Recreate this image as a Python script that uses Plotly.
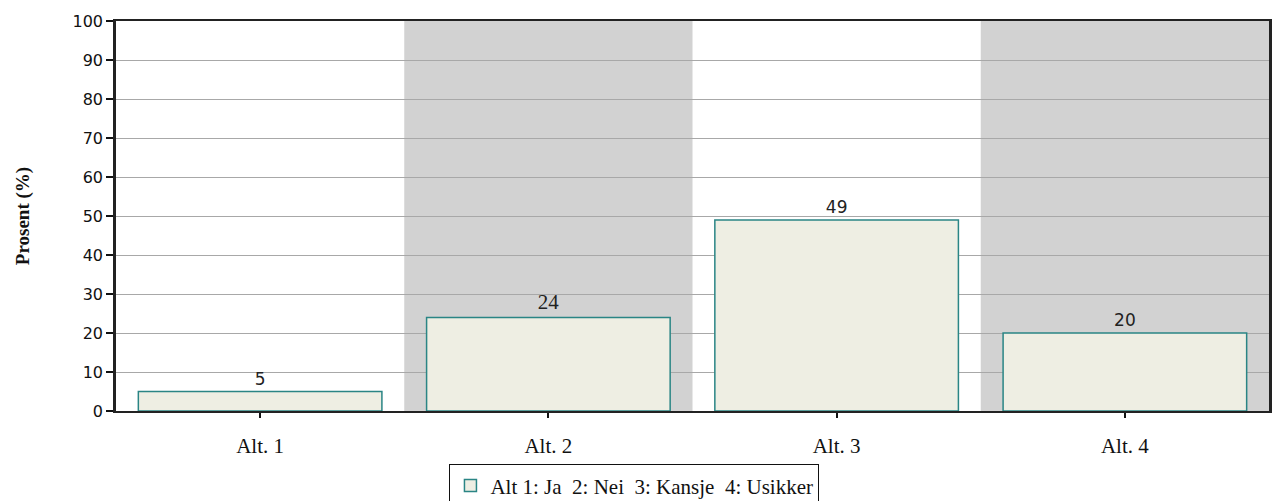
import plotly.graph_objects as go

# Survey result: share of answers per alternative
categories = ["Alt. 1", "Alt. 2", "Alt. 3", "Alt. 4"]
percent = [5, 24, 49, 20]
y_ticks = [0, 10, 20, 30, 40, 50, 60, 70, 80, 90, 100]
legend_label = "Alt 1: Ja  2: Nei  3: Kansje  4: Usikker"
y_title = "Prosent (%)"

BAR_FILL = "#EEEEE3"
BAR_EDGE = "#2A8585"
BAND_GRAY = "#D2D2D2"
SERIF = "Liberation Serif, Times New Roman, serif"
SANS = "DejaVu Sans, sans-serif"

# value labels: most in sans, the second one set in serif
label_fonts = [SANS, SERIF, SANS, SANS]
label_sizes = [17, 21, 17, 17]

fig = go.Figure()
fig.add_trace(go.Bar(
    x=list(range(len(categories))),
    y=percent,
    width=0.845,
    name=legend_label.replace("  ", "&nbsp; "),
    marker=dict(color=BAR_FILL, line=dict(color=BAR_EDGE, width=1.5)),
    text=[str(v) for v in percent],
    textposition="outside",
    cliponaxis=False,
    textfont=dict(family=label_fonts, size=label_sizes, color="#222222"),
    showlegend=True,
))

# Alternating shaded bands behind every second category
for i in range(len(categories)):
    if i % 2 == 1:
        fig.add_shape(type="rect", xref="x", yref="paper",
                      x0=i - 0.5, x1=i + 0.5, y0=0, y1=1,
                      fillcolor=BAND_GRAY, line=dict(width=0), layer="below")

fig.update_layout(
    width=1274, height=501,
    margin=dict(l=116, r=2, t=21, b=90),
    paper_bgcolor="white",
    plot_bgcolor="white",
    bargap=0.155,
    showlegend=True,
    legend=dict(
        xref="container", yref="container",
        x=0.498, y=0.073, xanchor="center", yanchor="top",
        orientation="h",
        bordercolor="#111111", borderwidth=1,
        bgcolor="white",
        font=dict(family=SERIF, size=21, color="#111111"),
        itemwidth=30,
    ),
)

fig.update_xaxes(
    range=[-0.5, len(categories) - 0.5],
    tickmode="array",
    tickvals=list(range(len(categories))),
    ticktext=categories,
    ticks="outside", ticklen=5, tickcolor="#111111", tickwidth=1.5,
    ticklabelstandoff=10,
    tickfont=dict(family=SERIF, size=21, color="#111111"),
    showline=True, linecolor="#222222", linewidth=2, mirror=True,
    showgrid=False, zeroline=False,
)

fig.update_yaxes(
    range=[0, 100],
    tickmode="array",
    tickvals=y_ticks,
    ticks="outside", ticklen=7, tickcolor="#111111", tickwidth=1.5,
    tickfont=dict(family=SANS, size=16, color="#111111"),
    showline=True, linecolor="#222222", linewidth=2.5, mirror=True,
    showgrid=True, gridcolor="#A8A8A8", gridwidth=1,
    zeroline=False,
    title=dict(text="<b>" + y_title + "</b>", standoff=38,
               font=dict(family=SERIF, size=19, color="#111111")),
)

fig.write_html("out.html")
